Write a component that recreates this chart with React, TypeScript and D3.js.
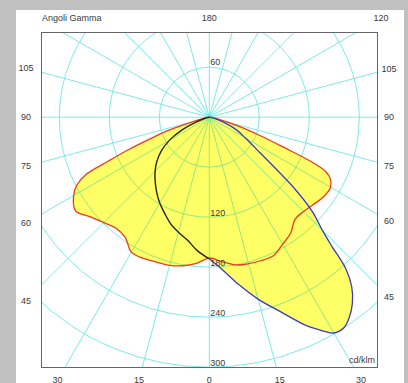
import React from 'react';
import * as d3 from 'd3';

const W = 408;
const H = 383;
const CX = 209.3;
const CY = 117.2;
const BOX = { x0: 41.5, y0: 32.5, x1: 377.5, y1: 367.5 };

// cd/klm rings and gamma spokes
const radialTicks = [60, 120, 180, 240, 300];
const spokeStep = 15;
const sideTicks = [105, 90, 75, 60, 45];
const bottomTicks = [-30, -15, 0, 15, 30];
const topTicks = [180, 120];

// C0 / C180 plane (red)
const c0Gamma = [0, 5, 10, 15, 20, 25, 30, 35, 40, 45, 50, 55, 60, 63, 65, 66.5, 68, 70, 73, 77, 90];
const c0Cd = [169, 174, 180, 182, 183, 183, 176, 170, 160, 160, 163, 167, 168, 163, 154, 132, 96, 66, 36, 14, 0];
const c180Gamma = [0, 5, 10, 15, 20, 25, 30, 35, 40, 45, 50, 55, 60, 63, 65, 66.5, 68, 70, 72, 75, 80, 90];
const c180Cd = [170, 176, 181, 184, 185, 187, 187, 176, 174, 179, 186, 196, 188, 178, 164, 132, 106, 74, 54, 18, 5, 0];

// C90 / C270 plane (blue / dark)
const c90Gamma = [0, 5, 10, 15, 20, 25, 27.5, 30, 32.5, 35, 37.5, 40, 42, 43.5, 45, 47.5, 50, 55, 60, 65, 70, 75, 82, 90];
const c90Cd = [170, 184, 204, 226, 248, 276, 288, 299, 300, 293, 282, 266, 245, 214, 192, 168, 134, 74, 50, 36, 20, 8, 2, 0];
const c270Gamma = [0, 5, 10, 15, 20, 25, 30, 35, 40, 45, 50, 55, 60, 65, 70, 75, 80, 90];
const c270Cd = [170, 161, 150, 143, 136, 127, 119, 110, 101, 92, 82, 70, 55, 36, 17, 6, 1, 0];

const r = d3.scaleLinear().domain([0, 300]).range([0, 250]);
const rad = (g: number) => (g * Math.PI) / 180;

const toXY = (g: number, v: number, side: number): [number, number] => [
  CX + side * r(v) * Math.sin(rad(g)),
  CY + r(v) * Math.cos(rad(g)),
];

const half = (gs: number[], vs: number[], side: number) => gs.map((g, i) => toXY(g, vs[i], side));

// closed loop: right half 0..90 then left half back down (skipping shared ends)
const loop = (rg: number[], rv: number[], lg: number[], lv: number[]) => {
  const right = half(rg, rv, 1);
  const left = half(lg, lv, -1).slice(1, -1).reverse();
  return [...right, ...left];
};

// where a gamma ray leaves a rectangle around the centre
const rayHit = (g: number, x0: number, y0: number, x1: number, y1: number): [number, number] => {
  const dx = Math.sin(rad(g));
  const dy = Math.cos(rad(g));
  const ts: number[] = [];
  if (dx > 1e-6) ts.push((x1 - CX) / dx);
  if (dx < -1e-6) ts.push((x0 - CX) / dx);
  if (dy > 1e-6) ts.push((y1 - CY) / dy);
  if (dy < -1e-6) ts.push((y0 - CY) / dy);
  const t = Math.min(...ts);
  return [CX + t * dx, CY + t * dy];
};

const labelPos = (g: number) => rayHit(g, 26, 18, 389, 380);

const Grid: React.FC<{ color: string }> = ({ color }) => {
  const spokes = d3.range(0, 360, spokeStep);
  return (
    <g stroke={color} strokeWidth={0.9} fill="none">
      {spokes.map((g) => {
        const [x, y] = rayHit(g, BOX.x0, BOX.y0, BOX.x1, BOX.y1);
        return <line key={g} x1={CX} y1={CY} x2={x} y2={y} />;
      })}
      {radialTicks.map((t) => (
        <circle key={t} cx={CX} cy={CY} r={r(t)} />
      ))}
    </g>
  );
};

const App: React.FC = () => {
  const closed = d3.line().curve(d3.curveCatmullRomClosed.alpha(0.5));
  const open = d3.line().curve(d3.curveCatmullRom.alpha(0.5));

  const redPath = closed(loop(c0Gamma, c0Cd, c180Gamma, c180Cd)) || '';
  const bluePath = closed(loop(c90Gamma, c90Cd, c270Gamma, c270Cd)) || '';
  const bluePts = half(c90Gamma, c90Cd, 1);
  const darkPts = half(c270Gamma, c270Cd, -1);

  const font = { fontFamily: 'Liberation Sans, Arial, sans-serif', fontSize: 9, fill: '#3a3a3a' };

  return (
    <svg width={W} height={H} style={{ position: 'absolute', left: 0, top: 0 }}>
      <defs>
        <clipPath id="box">
          <rect x={BOX.x0} y={BOX.y0} width={BOX.x1 - BOX.x0} height={BOX.y1 - BOX.y0} />
        </clipPath>
        <clipPath id="lit">
          <path d={redPath} />
          <path d={bluePath} />
        </clipPath>
      </defs>
      <rect width={W} height={H} fill="#c0c0c0" />
      <rect x={16} y={10} width={388} height={H} fill="#fff" />

      <g clipPath="url(#box)">
        <Grid color="#6fe6e6" />
        <path d={redPath} fill="#ffff66" />
        <path d={bluePath} fill="#ffff66" />
        <g clipPath="url(#lit)">
          <Grid color="#86e67c" />
        </g>
        <path d={redPath} fill="none" stroke="#ee3a1c" strokeWidth={1.3} />
        <path d={open(bluePts) || ''} fill="none" stroke="#3b3bc8" strokeWidth={1.3} />
        <path d={open(darkPts) || ''} fill="none" stroke="#262614" strokeWidth={1.4} />
      </g>
      <rect x={BOX.x0} y={BOX.y0} width={BOX.x1 - BOX.x0} height={BOX.y1 - BOX.y0} fill="none" stroke="#666" strokeWidth={1} />

      {radialTicks.map((t, i) => (
        <text key={t} x={CX + 1} y={i === 0 ? CY - r(t) - 2 : CY + r(t) - 1} {...font}>{t}</text>
      ))}

      {sideTicks.map((g) => {
        const [xl, yl] = labelPos(-g);
        const [xr, yr] = labelPos(g);
        return (
          <g key={g}>
            <text x={xl} y={yl} dy="0.35em" textAnchor="middle" {...font}>{g}</text>
            <text x={xr} y={yr} dy="0.35em" textAnchor="middle" {...font}>{g}</text>
          </g>
        );
      })}
      {bottomTicks.map((g, i) => {
        const [x, y] = labelPos(g);
        return <text key={i} x={x} y={y} dy="0.35em" textAnchor="middle" {...font}>{Math.abs(g)}</text>;
      })}
      {topTicks.map((g) => {
        const [x, y] = labelPos(g);
        return <text key={g} x={x} y={y} dy="0.35em" textAnchor="middle" {...font}>{g}</text>;
      })}
      <text x={42} y={18} dy="0.35em" {...font}>Angoli Gamma</text>
      <text x={375} y={363} textAnchor="end" {...font}>cd/klm</text>
    </svg>
  );
};

export default App;
